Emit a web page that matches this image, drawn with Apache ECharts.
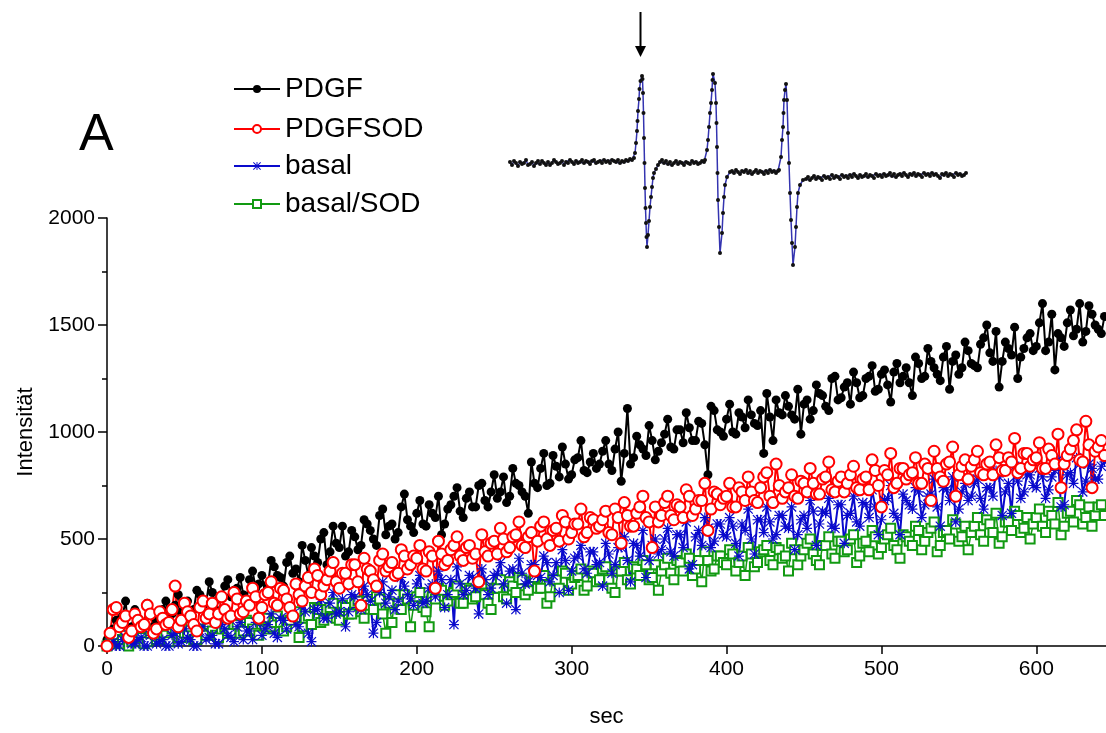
<!DOCTYPE html>
<html>
<head>
<meta charset="utf-8">
<script src="https://cdn.jsdelivr.net/npm/echarts@6/dist/echarts.min.js"></script>
<style>html,body{margin:0;padding:0;background:#fff}#c{width:1106px;height:733px}</style>
</head>
<body>
<div id="c"></div>
<script>
// samples: "A" arrays at t = 0,4,8,... s ; "B" arrays at t = 2,6,10,... s
const stepSec = 4;
const xTicks = [0, 100, 200, 300, 400, 500, 600];
const yTicks = [0, 500, 1000, 1500, 2000];
const seriesNames = ['PDGF', 'PDGFSOD', 'basal', 'basal/SOD'];

const pdgfA = [
30,80,50,210,90,130,100,150,120,170,
140,190,160,210,170,240,200,250,220,280,
230,270,240,310,270,330,290,370,320,390,
340,300,400,460,390,530,440,480,560,440,
510,470,570,500,610,520,570,530,710,560,
620,570,660,600,520,640,700,630,690,650,
750,680,720,690,790,700,760,720,620,760,
830,750,890,790,850,800,880,820,860,830,
910,850,920,770,1110,880,940,890,960,910,
990,930,1010,950,1020,960,1040,800,1100,1000,
1060,1000,1090,1020,1080,1030,900,1070,1150,1080,
1120,1060,990,1150,1100,1180,1120,1250,1150,1210,
1130,1230,1170,1260,1190,1270,1220,1280,1230,1300,
1170,1320,1260,1330,1270,1350,1200,1360,1300,1380,
1310,1410,1500,1330,1210,1420,1360,1250,1390,1460,
1400,1600,1420,1290,1440,1510,1450,1600,1470,1550,
1480,1540];
const pdgfB = [
10,120,140,60,170,110,200,90,150,210,
150,240,200,130,260,190,300,170,230,310,
260,320,210,350,290,250,400,330,280,420,
360,470,330,420,500,380,560,460,420,540,
450,590,540,470,640,560,500,650,590,530,
680,560,620,700,570,660,740,600,720,650,
760,650,800,720,670,830,750,700,860,740,
900,760,840,930,780,870,960,810,900,850,
960,820,1000,900,850,980,920,1030,870,950,
1060,920,1010,1090,960,1050,940,1120,1010,980,
1130,990,1070,1150,1040,1100,1180,960,1090,1170,
1080,1200,1130,1060,1220,1170,1100,1260,1160,1230,
1280,1160,1250,1310,1200,1290,1140,1320,1260,1230,
1350,1250,1390,1300,1240,1400,1330,1270,1420,1320,
1300,1440,1370,1470,1330,1390,1490,1350,1440,1380,
1510,1380,1550,1460,1400,1570,1480,1420,1590,1500,
1460];

const pdgfSodA = [
0,170,90,140,70,120,100,150,80,130,
110,280,120,160,100,180,130,200,150,170,
140,220,160,190,230,180,250,200,270,220,
140,240,280,250,330,280,350,300,340,290,
380,190,360,310,400,350,390,340,420,380,
410,360,440,270,430,400,470,420,460,410,
300,440,480,430,500,460,520,470,510,350,
560,500,540,490,580,530,570,510,600,550,
590,530,640,480,610,560,650,600,460,580,
670,610,660,600,700,640,680,540,720,660,
700,650,740,680,720,670,790,700,850,690,
740,700,770,720,760,710,790,730,770,720,
800,740,780,730,820,650,800,740,830,780,
810,760,850,680,830,770,860,700,840,780,
870,810,850,800,880,820,860,810,900,840,
880,830,920,850,740,890,960,870,1050,740,
930,890];
const pdgfSodB = [
60,180,110,40,150,90,190,60,160,100,
170,90,200,140,70,210,150,110,230,130,
250,150,210,270,130,240,300,190,260,180,
290,210,320,360,240,310,390,270,340,380,
300,410,350,280,430,370,330,450,360,420,
470,350,420,490,380,450,510,400,470,430,
520,420,490,550,440,510,580,460,530,490,
580,470,550,610,500,570,640,530,590,560,
630,520,600,670,560,620,700,580,650,610,
700,590,650,730,610,680,760,640,710,690,
760,650,720,790,680,740,810,670,750,720,
800,690,760,830,710,780,860,720,790,760,
840,730,790,870,750,820,900,760,830,800,
880,760,830,910,790,850,930,800,870,840,
910,800,860,940,820,880,970,830,900,870,
950,830,890,990,850,920,1010,860,940,910,
960];

const basalA = [
0,20,0,40,10,30,0,50,10,30,
0,60,20,40,0,70,30,50,10,80,
40,90,30,70,110,50,100,60,130,80,
150,90,160,20,170,130,200,150,220,160,
230,170,240,60,250,200,260,210,280,220,
290,200,270,230,310,240,100,290,260,320,
150,310,270,340,290,350,170,340,300,380,
320,390,330,250,400,350,420,360,440,380,
280,430,380,460,400,480,420,320,470,430,
500,440,520,460,360,510,470,550,490,570,
510,560,420,540,500,590,530,580,520,610,
550,450,590,550,630,570,620,560,660,480,
620,580,670,600,650,590,690,620,520,680,
640,720,660,710,650,740,680,580,720,680,
760,690,740,700,790,720,620,770,720,800,
740,790,730,820,650,800,760,850,770,830,
780,860];
const basalB = [
50,0,30,70,10,40,0,60,20,0,
50,10,80,30,0,90,40,10,100,50,
20,110,70,30,130,80,150,40,120,170,
100,190,60,170,220,130,250,160,90,240,
180,280,210,110,300,230,170,320,240,190,
330,210,290,350,180,310,370,240,330,270,
360,240,330,390,200,360,410,290,380,330,
420,300,390,450,260,410,470,340,440,390,
480,340,460,510,300,470,540,400,500,450,
550,420,520,580,380,540,600,460,570,520,
600,480,570,640,430,590,650,500,610,560,
650,520,610,680,470,630,690,550,660,610,
700,560,660,730,520,680,750,600,710,660,
740,600,700,780,560,730,790,640,760,700,
780,640,740,820,610,760,840,690,800,750,
830,690,790,870,660,810,880,720,850,780,
840];

const basalSodA = [
0,30,10,50,20,40,10,60,30,50,
20,70,40,60,30,80,50,70,40,90,
60,100,70,110,60,120,80,110,110,90,
150,40,130,100,170,120,180,130,190,150,
200,160,210,170,220,60,110,200,240,90,
230,180,90,220,260,210,250,200,270,220,
290,240,170,270,230,300,250,310,260,320,
270,200,310,270,340,290,330,260,350,300,
360,310,250,350,310,370,330,380,320,260,
380,340,400,350,410,360,300,400,360,420,
380,430,390,330,430,390,450,400,460,410,
350,450,420,480,430,380,470,430,490,440,
500,390,480,440,510,460,520,470,410,510,
470,540,490,550,440,530,500,570,510,450,
560,520,590,530,480,580,540,610,550,500,
600,560,630,570,520,620,580,660,600,560,
650,610];
const basalSodB = [
10,50,30,0,60,40,20,70,30,50,
80,40,60,90,30,70,100,50,80,60,
100,60,120,80,50,130,90,140,70,120,
160,90,140,180,110,170,200,120,180,150,
210,130,190,230,150,200,240,170,220,190,
250,160,230,270,190,240,280,200,260,230,
290,200,270,310,220,280,320,240,300,270,
330,230,310,350,260,320,360,280,340,310,
370,270,350,390,290,360,400,310,380,350,
410,310,390,430,330,400,440,350,420,390,
450,350,420,460,370,440,470,380,450,420,
480,380,450,500,400,470,510,410,490,450,
520,420,490,540,430,500,550,450,520,490,
560,450,530,580,470,540,590,490,560,530,
600,490,570,620,510,580,630,530,600,570,
640,530,610,670,560,630,680,570,650,610,
660];

// inset EPR spectrum (field position, signal)
const insetField = [
0,2,4,6,8,10,12,14,16,18,20,22,24,26,28,30,32,34,36,38,40,42,44,46,48,50,52,54,56,58,60,62,64,66,68,70,72,74,76,78,80,82,84,86,88,90,92,94,96,98,100,102,104,106,108,110,112,114,116,118,120,122,124,
125,126,127,127.5,128,129,129.5,130.5,132,132.5,133,133.5,134,134.5,135,135.5,136,136.5,137,138,139,140,141,142,143,144,146,148,
150,152,154,156,158,160,162,164,166,168,170,172,174,176,178,180,182,184,186,188,190,192,194,
195,197,198,199,200,201,202,202.5,203,205,206,206.5,207,207.5,208,209,210,212,213,214,215,217,220,
222,224,226,228,230,232,234,236,238,240,242,244,246,248,250,252,254,256,258,260,262,264,266,268,
269,271,272,273,273.5,274,275,276,277,278,279,280,281,282,283,285,286,287,288,290,293,
296,298,300,302,304,306,308,310,312,314,316,318,320,322,324,326,328,330,332,334,
336,338,340,342,344,346,348,350,352,354,356,358,360,362,364,366,368,370,372,374,
376,378,380,382,384,386,388,390,392,394,396,398,400,402,404,406,408,410,412,414,
416,418,420,422,424,426,428,430,432,434,436,438,440,442,444,446,448,450,452,454,456];
const insetSignal = [
1,-2,2,0,-3,1,-1,0,3,-2,-1,1,-3,0,2,-1,2,0,-2,1,-2,0,3,1,-1,0,2,-2,1,0,3,1,-1,2,0,1,3,0,2,1,-1,2,3,0,1,2,0,3,1,2,0,3,2,1,3,0,2,1,3,2,4,3,5,
10,20,32,42,52,64,74,82,87,84,70,50,25,0,-25,-45,-60,-74,-84,-72,-58,-44,-34,-24,-15,-10,-6,-2,
1,3,0,2,-1,1,-2,0,2,-1,1,0,-2,1,0,-1,2,0,1,-1,0,2,1,
3,13,23,36,50,60,73,83,89,80,60,40,16,-10,-37,-64,-90,-70,-50,-34,-22,-14,-9,
-8,-10,-7,-9,-11,-8,-9,-7,-10,-8,-11,-9,-7,-10,-8,-9,-11,-8,-10,-7,-9,-8,-10,-8,
-7,6,23,36,50,63,73,79,63,30,0,-30,-57,-80,-102,-84,-64,-44,-30,-22,-17,
-16,-14,-17,-15,-13,-16,-14,-15,-17,-13,-15,-14,-16,-12,-15,-13,-14,-16,-12,-14,
-13,-15,-12,-14,-11,-13,-15,-12,-14,-13,-11,-14,-12,-13,-15,-11,-13,-12,-14,-11,
-13,-12,-10,-13,-11,-14,-12,-11,-13,-10,-12,-14,-11,-12,-10,-13,-11,-12,-14,-10,
-12,-11,-13,-10,-12,-11,-13,-15,-11,-12,-10,-13,-11,-12,-14,-10,-12,-11,-13,-12,-10];

const FONT = 'Liberation Sans';
function merge(a, b) {
  const out = [];
  for (let i = 0; i < a.length; i++) {
    out.push([i * stepSec, a[i]]);
    if (i < b.length) out.push([i * stepSec + stepSec / 2, b[i]]);
  }
  return out;
}
const asterisk = 'path://M4.4,0h1.2v10h-1.2z M0,4.4h10v1.2h-10z M0.85,0L10,9.15L9.15,10L0,0.85z M9.15,0L10,0.85L0.85,10L0,9.15z';

const chart = echarts.init(document.getElementById('c'), null, {renderer: 'canvas'});
function legendFor(name, top) {
  return {
    data: [name], left: 233, top: top, orient: 'vertical', padding: 0,
    itemWidth: 46, itemHeight: 10, itemGap: 0,
    textStyle: {fontSize: 28, fontFamily: FONT, color: '#000'}
  };
}
const option = {
  animation: false,
  backgroundColor: '#fff',
  title: {text: 'A', left: 79, top: 110, padding: 0,
    textStyle: {fontSize: 52, fontWeight: 'normal', fontFamily: FONT, color: '#000'}},
  legend: [
    legendFor(seriesNames[0], 75),
    legendFor(seriesNames[1], 115),
    legendFor(seriesNames[2], 152),
    legendFor(seriesNames[3], 190)
  ],
  grid: [
    {left: 107, top: 218, right: 0, bottom: 85},
    {left: 510, top: 70, width: 460, height: 200}
  ],
  xAxis: [{
    type: 'value', min: xTicks[0], max: 645, interval: 100,
    name: 'sec', nameLocation: 'middle', nameGap: 60,
    nameTextStyle: {fontSize: 22, fontFamily: FONT, color: '#000'},
    axisLine: {lineStyle: {color: '#000', width: 1.5}},
    axisTick: {length: 8, lineStyle: {color: '#000', width: 1.5}},
    axisLabel: {fontSize: 21, fontFamily: FONT, color: '#000', margin: 13, showMaxLabel: false,
      formatter: v => (xTicks.indexOf(v) >= 0 ? String(v) : '')},
    splitLine: {show: false}
  }, {
    gridIndex: 1, type: 'value', min: 0, max: 460, show: false
  }],
  yAxis: [{
    type: 'value', min: yTicks[0], max: yTicks[yTicks.length - 1], interval: 500,
    name: 'Intensität', nameLocation: 'middle', nameGap: 64, nameRotate: 90,
    nameTextStyle: {fontSize: 22, fontFamily: FONT, color: '#000'},
    axisLine: {show: true, lineStyle: {color: '#000', width: 1.5}},
    axisTick: {show: true, length: 9, lineStyle: {color: '#000', width: 1.5}},
    minorTick: {show: true, splitNumber: 2, length: 5, lineStyle: {color: '#000', width: 1.5}},
    axisLabel: {fontSize: 21, fontFamily: FONT, color: '#000', margin: 12,
      formatter: v => String(v)},
    splitLine: {show: false}
  }, {
    gridIndex: 1, type: 'value', min: -107, max: 93, show: false
  }],
  series: [
    {name: seriesNames[0], type: 'line', data: merge(pdgfA, pdgfB), clip: false,
      symbol: 'circle', symbolSize: 9, showAllSymbol: true,
      lineStyle: {color: '#000', width: 2}, itemStyle: {color: '#000'}},
    {name: seriesNames[3], type: 'line', data: merge(basalSodA, basalSodB), clip: false,
      symbol: 'emptyRect', symbolSize: 9, showAllSymbol: true,
      lineStyle: {color: '#129a12', width: 1.5}, itemStyle: {color: '#129a12', borderWidth: 1.5}},
    {name: seriesNames[2], type: 'line', data: merge(basalA, basalB), clip: false,
      symbol: asterisk, symbolSize: 10, showAllSymbol: true,
      lineStyle: {color: '#0a0acc', width: 2}, itemStyle: {color: '#0a0acc'}},
    {name: seriesNames[1], type: 'line', data: merge(pdgfSodA, pdgfSodB), clip: false,
      symbol: 'emptyCircle', symbolSize: 11, showAllSymbol: true,
      lineStyle: {color: '#ff0000', width: 2}, itemStyle: {color: '#ff0000', borderWidth: 2}},
    {name: 'EPR', type: 'line', xAxisIndex: 1, yAxisIndex: 1,
      data: insetField.map((f, i) => [f, insetSignal[i]]),
      symbol: 'circle', symbolSize: 4, showAllSymbol: true,
      lineStyle: {color: '#3434b0', width: 1.5}, itemStyle: {color: '#111'}}
  ],
  graphic: [
    {type: 'line', shape: {x1: 640.5, y1: 12, x2: 640.5, y2: 48}, style: {stroke: '#000', lineWidth: 2}},
    {type: 'polygon', shape: {points: [[635, 46], [646, 46], [640.5, 57]]}, style: {fill: '#000'}}
  ]
};
chart.setOption(option);
</script>
</body>
</html>
